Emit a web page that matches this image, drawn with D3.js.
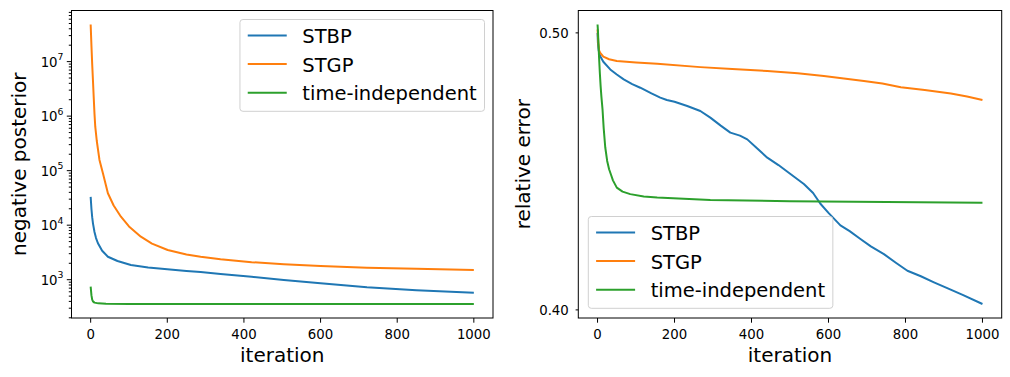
<!DOCTYPE html>
<html lang="en">
<head>
<meta charset="utf-8">
<script src="https://d3js.org/d3.v7.min.js"></script>
<style>
  body { margin: 0; background: #fff; }
  text { font-family: "DejaVu Sans", sans-serif; fill: #000; }
  .ticklabel { font-size: 13.3px; }
  .title { font-size: 20px; }
  .legend text { font-size: 19.5px; }
  .spine { fill: none; stroke: #000; stroke-width: 1; }
  .tk { stroke: #000; stroke-width: 1; }
  .line { fill: none; stroke-width: 2; stroke-linejoin: round; stroke-linecap: butt; }
</style>
</head>
<body>
<svg id="chart" width="1010" height="377"></svg>
<script>
var names = ["STBP", "STGP", "time-independent"];
var colors = ["#1f77b4", "#ff7f0e", "#2ca02c"];
var xTicks = [0, 200, 400, 600, 800, 1000];

// left panel: negative posterior (log)
var npIterSTBP = [0,2,4,6,10,14,19,30,45,70,105,150,200,250,287,339,420,504,600,721,850,1000];
var npSTBP = [33000,20000,14000,10800,7500,5800,4660,3400,2640,2200,1860,1680,1550,1450,1380,1270,1130,990,860,725,640,575];
var npIterSTGP = [0,2,4,6,8,10,12,16,23,32,45,60,79,100,131,160,201,250,287,339,420,504,600,721,850,1000];
var npSTGP = [4.8e7,2e7,9e6,4.5e6,2.2e6,1.1e6,6.4e5,3.5e5,1.57e5,9e4,3.85e4,2.3e4,1.43e4,9.5e3,6.15e3,4.6e3,3.5e3,2.9e3,2.64e3,2.37e3,2.1e3,1.92e3,1.78e3,1.66e3,1.58e3,1.51e3];
var npIterTI = [0,2,4,6,10,20,40,100,1000];
var npTI = [745,520,430,400,380,368,362,359,358];
var npMajor = [1e3, 1e4, 1e5, 1e6, 1e7];

// right panel: relative error (log)
var reIterSTBP = [0,1,3,7,15,33,50,68,90,111,140,163,180,200,233,267,293,320,345,370,389,415,441,470,502,536,560,579,600,631,655,683,710,744,775,805,840,874,910,950,1000];
var reSTBP = [0.500,0.496,0.493,0.4907,0.4885,0.4855,0.4835,0.4816,0.4798,0.4784,0.4762,0.4746,0.4737,0.4730,0.4714,0.4695,0.4670,0.4640,0.4614,0.4603,0.4589,0.4555,0.4522,0.4495,0.4462,0.4427,0.4395,0.4357,0.4325,0.4282,0.4262,0.4235,0.4210,0.4184,0.4155,0.4128,0.4110,0.4090,0.4070,0.4048,0.4019];
var reIterSTGP = [0,2,4,7,15,30,50,100,155,267,350,441,520,588,640,692,740,788,850,918,960,1000];
var reSTGP = [0.5014,0.496,0.493,0.4920,0.4905,0.4895,0.4888,0.4882,0.4877,0.4864,0.4857,0.4849,0.4840,0.4829,0.4820,0.4810,0.4800,0.4786,0.4775,0.4762,0.4750,0.4737];
var reIterTI = [0,1,2,4,6,8,10,13,16,20,25,30,35,40,50,65,85,120,155,293,500,750,1000];
var reTI = [0.5034,0.501,0.497,0.490,0.484,0.479,0.475,0.470,0.463,0.456,0.451,0.448,0.446,0.444,0.4414,0.4400,0.4391,0.4383,0.4379,0.4370,0.4366,0.4363,0.4361];
var reTicks = [0.4, 0.5];

var svg = d3.select("#chart");
svg.append("rect").attr("width", 1010).attr("height", 377).attr("fill", "#fff");

function zip(xs, ys) { return xs.map(function(x, i) { return [x, ys[i]]; }); }

function logDomain(all) {
  var lo = Math.log10(d3.min(all)), hi = Math.log10(d3.max(all));
  var p = (hi - lo) * 0.05;
  return [Math.pow(10, lo - p), Math.pow(10, hi + p)];
}

function panel(o) {
  var g = svg.append("g");
  var x = d3.scaleLinear().domain([-50, 1050]).range([o.left, o.right]);
  var all = [].concat.apply([], o.series.map(function(s) { return s[1]; }));
  var y = d3.scaleLog().domain(logDomain(all)).range([o.bottom, o.top]);

  var cid = "clip" + o.id;
  g.append("clipPath").attr("id", cid).append("rect")
    .attr("x", o.left).attr("y", o.top)
    .attr("width", o.right - o.left).attr("height", o.bottom - o.top);

  var line = d3.line().x(function(d) { return x(d[0]); }).y(function(d) { return y(d[1]); });
  o.series.forEach(function(s, i) {
    g.append("path").attr("class", "line")
      .attr("clip-path", "url(#" + cid + ")")
      .attr("stroke", colors[i])
      .attr("d", line(zip(s[0], s[1])));
  });

  // x ticks
  xTicks.forEach(function(t) {
    var px = x(t);
    g.append("line").attr("class", "tk").attr("x1", px).attr("x2", px)
      .attr("y1", o.bottom).attr("y2", o.bottom + 4.7);
    g.append("text").attr("class", "ticklabel").attr("x", px).attr("y", o.bottom + 21)
      .attr("text-anchor", "middle").text(t);
  });

  // y minor ticks
  if (o.minor) {
    var dom = y.domain();
    for (var k = 2; k <= 7; k++) {
      for (var m = 2; m <= 9; m++) {
        var v = m * Math.pow(10, k);
        if (v < dom[0] || v > dom[1]) continue;
        g.append("line").attr("class", "tk").attr("x1", o.left - 2.7).attr("x2", o.left)
          .attr("y1", y(v)).attr("y2", y(v));
      }
    }
  }
  // y major ticks
  o.yTicks.forEach(function(t) {
    var py = y(t);
    g.append("line").attr("class", "tk").attr("x1", o.left - o.tickLen).attr("x2", o.left)
      .attr("y1", py).attr("y2", py);
    var tx = g.append("text").attr("class", "ticklabel")
      .attr("x", o.left - o.labelGap).attr("y", py + 5).attr("text-anchor", "end");
    if (o.sup) {
      tx.append("tspan").text("10");
      tx.append("tspan").attr("dy", -6.5).style("font-size", "9.3px")
        .text(Math.round(Math.log10(t)));
    } else {
      tx.text(d3.format(".2f")(t));
    }
  });

  g.append("rect").attr("class", "spine")
    .attr("x", o.left).attr("y", o.top)
    .attr("width", o.right - o.left).attr("height", o.bottom - o.top);

  g.append("text").attr("class", "title")
    .attr("x", (o.left + o.right) / 2).attr("y", 361.5)
    .attr("text-anchor", "middle").text("iteration");
  g.append("text").attr("class", "title")
    .attr("transform", "translate(" + o.ylabelX + "," + ((o.top + o.bottom) / 2) + ") rotate(-90)")
    .attr("text-anchor", "middle").text(o.ylabel);

  // legend
  var fs = 19.5;
  var lg = g.append("g").attr("class", "legend");
  var box = lg.append("rect").attr("rx", 3).attr("ry", 3)
    .attr("fill", "#fff").attr("fill-opacity", 0.8)
    .attr("stroke", "#d0d0d0").attr("stroke-width", 1);
  var texts = [];
  names.forEach(function(n, i) {
    var cy = 16 + i * 28.6;
    lg.append("line").attr("x1", 0.4 * fs).attr("x2", 2.4 * fs)
      .attr("y1", cy).attr("y2", cy)
      .attr("stroke", colors[i]).attr("stroke-width", 2);
    texts.push(lg.append("text").attr("x", 3.2 * fs).attr("y", cy + 7.5).text(n));
  });
  var tw = d3.max(texts, function(t) { return t.node().getComputedTextLength(); });
  var w = 3.6 * fs + tw, h = 16 + 2 * 28.6 + 18.6;
  box.attr("width", w).attr("height", h);
  var lx = o.legendRight != null ? o.legendRight - w : o.legendLeft;
  var ly = o.legendTop != null ? o.legendTop : o.legendBottom - h;
  lg.attr("transform", "translate(" + lx + "," + ly + ")");
}

panel({
  id: "np", left: 71.5, right: 493, top: 10.5, bottom: 318,
  series: [[npIterSTBP, npSTBP], [npIterSTGP, npSTGP], [npIterTI, npTI]],
  yTicks: npMajor, sup: true, minor: true, tickLen: 4.7, labelGap: 8,
  ylabel: "negative posterior", ylabelX: 26,
  legendRight: 484.5, legendTop: 19.5
});

panel({
  id: "re", left: 578.3, right: 1001.7, top: 10.5, bottom: 318,
  series: [[reIterSTBP, reSTBP], [reIterSTGP, reSTGP], [reIterTI, reTI]],
  yTicks: reTicks, sup: false, minor: false, tickLen: 2.7, labelGap: 9.5,
  ylabel: "relative error", ylabelX: 530,
  legendLeft: 588.3, legendBottom: 308.3
});
</script>
</body>
</html>
